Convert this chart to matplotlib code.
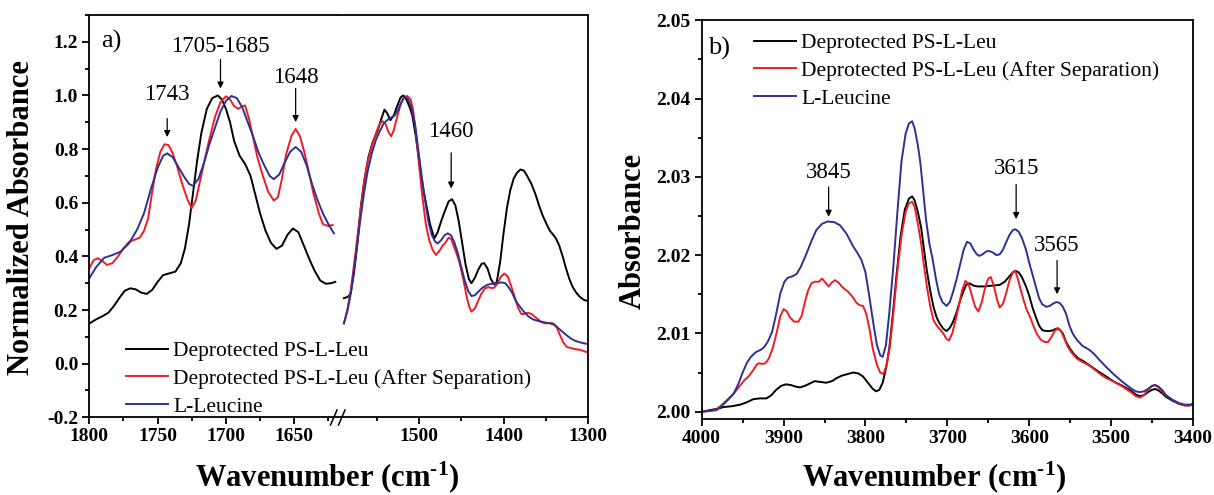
import matplotlib
matplotlib.use("Agg")
import matplotlib.pyplot as plt
from matplotlib.lines import Line2D
from matplotlib.ticker import MultipleLocator, FormatStrFormatter, FixedLocator

plt.rcParams['font.family'] = ['Liberation Serif', 'DejaVu Serif']
plt.rcParams['mathtext.fontset'] = 'custom'
plt.rcParams['mathtext.rm'] = 'Liberation Serif:bold'
plt.rcParams['mathtext.bf'] = 'Liberation Serif:bold'
plt.rcParams['mathtext.it'] = 'Liberation Serif:bold'
plt.rcParams['axes.unicode_minus'] = False

# ---------------- panel a, part 1 (1800-1620 cm-1) ----------------
a1_black_x = [1800, 1795, 1790, 1786, 1782, 1778, 1774, 1770, 1766, 1762, 1758, 1754, 1750, 1746,
              1742, 1737, 1733, 1730, 1727, 1724, 1721, 1718, 1714, 1710, 1706, 1703, 1700, 1697,
              1694, 1690, 1686, 1682, 1679, 1675, 1671, 1667, 1663, 1659, 1655, 1651, 1647, 1643,
              1639, 1635, 1631, 1627, 1623, 1620]
a1_black_y = [0.150, 0.165, 0.178, 0.190, 0.215, 0.245, 0.272, 0.281, 0.277, 0.265, 0.260, 0.275,
              0.305, 0.330, 0.336, 0.343, 0.375, 0.430, 0.520, 0.640, 0.760, 0.860, 0.950, 0.990,
              1.000, 0.985, 0.950, 0.900, 0.830, 0.775, 0.745, 0.700, 0.640, 0.560, 0.495, 0.450,
              0.428, 0.440, 0.480, 0.504, 0.490, 0.440, 0.390, 0.345, 0.310, 0.298, 0.300, 0.305]

a1_red_x = [1800, 1797, 1794, 1791, 1787, 1783, 1779, 1775, 1771, 1767, 1763, 1760, 1757, 1754,
            1751, 1748, 1745, 1742, 1739, 1736, 1732, 1728, 1725, 1722, 1719, 1716, 1712, 1708,
            1704, 1700, 1697, 1694, 1691, 1688, 1686, 1683, 1680, 1677, 1673, 1669, 1665, 1662,
            1659, 1656, 1652, 1649, 1646, 1643, 1640, 1636, 1632, 1629, 1625, 1622]
a1_red_y = [0.355, 0.385, 0.393, 0.385, 0.368, 0.375, 0.400, 0.430, 0.454, 0.462, 0.470, 0.495,
            0.540, 0.640, 0.730, 0.790, 0.818, 0.815, 0.785, 0.740, 0.670, 0.610, 0.580, 0.610,
            0.680, 0.750, 0.840, 0.920, 0.975, 0.997, 0.985, 0.960, 0.950, 0.960, 0.963, 0.910,
            0.840, 0.770, 0.700, 0.640, 0.608, 0.620, 0.690, 0.780, 0.850, 0.875, 0.850, 0.796,
            0.730, 0.635, 0.560, 0.520, 0.513, 0.517]

a1_blue_x = [1800, 1795, 1789, 1783, 1777, 1771, 1765, 1760, 1755, 1750, 1746, 1743, 1739, 1735,
             1731, 1727, 1724, 1720, 1716, 1712, 1708, 1704, 1700, 1696, 1692, 1688, 1684, 1680,
             1676, 1672, 1668, 1665, 1661, 1657, 1653, 1649, 1645, 1641, 1637, 1633, 1629, 1625,
             1621]
a1_blue_y = [0.318, 0.360, 0.395, 0.405, 0.418, 0.448, 0.500, 0.560, 0.650, 0.730, 0.775, 0.784,
             0.770, 0.735, 0.700, 0.670, 0.663, 0.690, 0.750, 0.820, 0.880, 0.940, 0.980, 0.998,
             0.990, 0.955, 0.900, 0.845, 0.785, 0.740, 0.700, 0.688, 0.705, 0.750, 0.790, 0.808,
             0.790, 0.740, 0.670, 0.610, 0.560, 0.520, 0.486]

# ---------------- panel a, part 2 (1590-1300 cm-1) ----------------
a2_black_x = [1589, 1584, 1581, 1577, 1573, 1569, 1565, 1560, 1555, 1549, 1545, 1541, 1538, 1534,
              1530, 1526, 1522, 1519, 1515, 1511, 1508, 1504, 1499, 1495, 1491, 1487, 1482, 1478,
              1474, 1470, 1465, 1461, 1457, 1453, 1449, 1445, 1441, 1438, 1434, 1430, 1426, 1423,
              1419, 1415, 1411, 1408, 1404, 1400, 1396, 1392, 1388, 1384, 1380, 1376, 1372, 1367,
              1362, 1358, 1354, 1349, 1345, 1341, 1338, 1334, 1330, 1326, 1322, 1318, 1314, 1310,
              1305, 1300]
a2_black_y = [0.244, 0.250, 0.262, 0.340, 0.450, 0.585, 0.680, 0.770, 0.825, 0.870, 0.910, 0.947,
              0.935, 0.908, 0.925, 0.960, 0.992, 1.000, 0.985, 0.955, 0.925, 0.850, 0.734, 0.650,
              0.585, 0.520, 0.467, 0.490, 0.530, 0.565, 0.605, 0.613, 0.590, 0.530, 0.450, 0.370,
              0.315, 0.300, 0.320, 0.350, 0.372, 0.375, 0.355, 0.315, 0.295, 0.305, 0.380, 0.486,
              0.580, 0.647, 0.690, 0.712, 0.724, 0.720, 0.700, 0.670, 0.630, 0.590, 0.555, 0.520,
              0.495, 0.480, 0.467, 0.440, 0.400, 0.355, 0.315, 0.285, 0.265, 0.250, 0.238, 0.233]

a2_red_x = [1589, 1585, 1581, 1577, 1573, 1569, 1565, 1561, 1557, 1552, 1548, 1544, 1540, 1536,
            1533, 1530, 1526, 1522, 1518, 1514, 1510, 1507, 1504, 1500, 1496, 1492, 1488, 1484,
            1480, 1476, 1472, 1468, 1465, 1462, 1458, 1455, 1452, 1448, 1444, 1441, 1438, 1434,
            1430, 1426, 1422, 1418, 1414, 1411, 1407, 1403, 1399, 1395, 1391, 1387, 1383, 1379,
            1375, 1371, 1367, 1363, 1359, 1355, 1350, 1345, 1341, 1337, 1333, 1329, 1325, 1320,
            1315, 1310, 1305, 1300]
a2_red_y = [0.150, 0.200, 0.270, 0.370, 0.473, 0.580, 0.680, 0.750, 0.800, 0.850, 0.885, 0.905,
            0.895, 0.862, 0.848, 0.870, 0.920, 0.965, 0.992, 0.998, 0.985, 0.945, 0.870, 0.740,
            0.620, 0.520, 0.460, 0.425, 0.405, 0.420, 0.440, 0.455, 0.470, 0.465, 0.430, 0.405,
            0.374, 0.320, 0.255, 0.215, 0.194, 0.205, 0.235, 0.262, 0.281, 0.285, 0.282, 0.283,
            0.300, 0.325, 0.336, 0.325, 0.290, 0.250, 0.210, 0.185, 0.186, 0.190, 0.185, 0.175,
            0.165, 0.155, 0.150, 0.152, 0.150, 0.135, 0.105, 0.078, 0.062, 0.058, 0.054, 0.052,
            0.047, 0.041]

a2_blue_x = [1589, 1585, 1581, 1577, 1573, 1569, 1565, 1561, 1556, 1551, 1546, 1542, 1537, 1533,
             1529, 1525, 1521, 1517, 1513, 1509, 1505, 1501, 1497, 1493, 1489, 1485, 1481, 1478,
             1474, 1470, 1466, 1462, 1458, 1454, 1450, 1446, 1442, 1438, 1434, 1430, 1425, 1420,
             1414, 1408, 1402, 1398, 1394, 1390, 1385, 1380, 1375, 1370, 1365, 1360, 1355, 1350,
             1345, 1340, 1335, 1330, 1325, 1320, 1315, 1310, 1305, 1300]
a2_blue_y = [0.150, 0.195, 0.260, 0.350, 0.450, 0.550, 0.640, 0.715, 0.784, 0.835, 0.870, 0.895,
             0.910, 0.918, 0.925, 0.945, 0.975, 0.997, 0.985, 0.955, 0.895, 0.800, 0.700, 0.610,
             0.530, 0.480, 0.455, 0.448, 0.460, 0.478, 0.486, 0.478, 0.450, 0.410, 0.360, 0.310,
             0.272, 0.252, 0.255, 0.268, 0.283, 0.293, 0.298, 0.300, 0.303, 0.300, 0.285, 0.265,
             0.231, 0.210, 0.190, 0.175, 0.165, 0.160, 0.156, 0.153, 0.150, 0.145, 0.132, 0.118,
             0.105, 0.093, 0.085, 0.080, 0.076, 0.073]

# ---------------- panel b (4000-3400 cm-1) ----------------
b_blue_x = [4000, 3990, 3982, 3975, 3968, 3961, 3955, 3950, 3945, 3940, 3934, 3928, 3924, 3919,
            3914, 3909, 3904, 3899, 3895, 3889, 3884, 3879, 3872, 3866, 3860, 3853, 3846, 3838,
            3831, 3823, 3815, 3810, 3805, 3800, 3795, 3790, 3786, 3782, 3779, 3775, 3771, 3766,
            3761, 3756, 3751, 3747, 3743, 3740, 3736, 3733, 3730, 3726, 3722, 3718, 3714, 3710,
            3706, 3701, 3697, 3693, 3689, 3684, 3680, 3676, 3672, 3668, 3664, 3661, 3657, 3652,
            3648, 3644, 3640, 3636, 3632, 3628, 3624, 3620, 3617, 3613, 3609, 3604, 3600, 3596,
            3592, 3588, 3584, 3579, 3575, 3571, 3567, 3563, 3559, 3555, 3551, 3547, 3542, 3535,
            3528, 3522, 3515, 3506, 3496, 3486, 3476, 3470, 3465, 3460, 3455, 3450, 3446, 3442,
            3437, 3433, 3425, 3417, 3410, 3404, 3400]
b_blue_y = [2.0000, 2.0001, 2.0002, 2.0008, 2.0015, 2.0023, 2.0036, 2.0050, 2.0062, 2.0070,
            2.0076, 2.0079, 2.0082, 2.0090, 2.0102, 2.0125, 2.0151, 2.0166, 2.0171, 2.0173,
            2.0176, 2.0185, 2.0202, 2.0218, 2.0232, 2.0240, 2.0243, 2.0242, 2.0238, 2.0227,
            2.0211, 2.0203, 2.0194, 2.0178, 2.0145, 2.0110, 2.0085, 2.0072, 2.0070, 2.0085,
            2.0125, 2.0185, 2.0255, 2.0320, 2.0355, 2.0368, 2.0371, 2.0362, 2.0340, 2.0318,
            2.0287, 2.0245, 2.0215, 2.0195, 2.0170, 2.0150, 2.0140, 2.0135, 2.0140, 2.0153,
            2.0168, 2.0190, 2.0207, 2.0217, 2.0215, 2.0207, 2.0201, 2.0199, 2.0201, 2.0205,
            2.0205, 2.0203, 2.0200, 2.0201, 2.0207, 2.0217, 2.0226, 2.0232, 2.0233, 2.0230,
            2.0222, 2.0207, 2.0190, 2.0175, 2.0160, 2.0145, 2.0137, 2.0134, 2.0135, 2.0138,
            2.0140, 2.0139, 2.0134, 2.0125, 2.0110, 2.0100, 2.0092, 2.0084, 2.0080, 2.0075,
            2.0067, 2.0057, 2.0047, 2.0038, 2.0030, 2.0026, 2.0025, 2.0026, 2.0029, 2.0033,
            2.0034, 2.0032, 2.0027, 2.0021, 2.0015, 2.0011, 2.0009, 2.0009, 2.0010]

b_black_x = [4000, 3990, 3980, 3973, 3963, 3953, 3945, 3937, 3929, 3921, 3915, 3909, 3903, 3897,
             3891, 3885, 3880, 3874, 3868, 3862, 3855, 3848, 3841, 3835, 3829, 3822, 3815, 3809,
             3803, 3797, 3791, 3787, 3783, 3779, 3775, 3771, 3767, 3762, 3757, 3752, 3747, 3743,
             3740, 3736, 3732, 3729, 3725, 3721, 3717, 3713, 3709, 3705, 3701, 3697, 3693, 3689,
             3685, 3681, 3677, 3673, 3668, 3663, 3655, 3645, 3636, 3630, 3625, 3620, 3617, 3613,
             3609, 3604, 3600, 3596, 3592, 3588, 3584, 3579, 3575, 3571, 3567, 3563, 3559, 3555,
             3550, 3545, 3540, 3533, 3526, 3518, 3506, 3496, 3486, 3476, 3470, 3465, 3460, 3455,
             3450, 3446, 3442, 3437, 3433, 3425, 3417, 3410, 3404, 3400]
b_black_y = [2.0000, 2.0002, 2.0004, 2.0006, 2.0007, 2.0009, 2.0012, 2.0016, 2.0017, 2.0017,
             2.0021, 2.0028, 2.0033, 2.0035, 2.0034, 2.0032, 2.0031, 2.0033, 2.0036, 2.0039,
             2.0038, 2.0037, 2.0039, 2.0043, 2.0046, 2.0048, 2.0050, 2.0049, 2.0045, 2.0037,
             2.0029, 2.0026, 2.0028, 2.0037, 2.0055, 2.0080, 2.0120, 2.0175, 2.0225, 2.0258,
             2.0272, 2.0275, 2.0270, 2.0255, 2.0235, 2.0211, 2.0180, 2.0155, 2.0134, 2.0120,
             2.0112, 2.0106, 2.0103, 2.0107, 2.0115, 2.0126, 2.0140, 2.0152, 2.0162, 2.0164,
             2.0161, 2.0160, 2.0160, 2.0161, 2.0162, 2.0166, 2.0172, 2.0178, 2.0180, 2.0178,
             2.0172, 2.0160, 2.0148, 2.0133, 2.0121, 2.0110, 2.0104, 2.0103, 2.0103, 2.0104,
             2.0106, 2.0105, 2.0100, 2.0089, 2.0080, 2.0073, 2.0068, 2.0064, 2.0059, 2.0053,
             2.0045, 2.0038, 2.0033, 2.0027, 2.0022, 2.0020, 2.0021, 2.0025, 2.0028, 2.0029,
             2.0027, 2.0023, 2.0019, 2.0014, 2.0010, 2.0008, 2.0008, 2.0010]

b_red_x = [4000, 3990, 3982, 3975, 3968, 3961, 3955, 3948, 3942, 3937, 3933, 3930, 3926, 3922,
           3918, 3913, 3908, 3904, 3900, 3896, 3892, 3887, 3882, 3878, 3874, 3870, 3866, 3862,
           3857, 3853, 3849, 3845, 3841, 3837, 3833, 3829, 3825, 3821, 3816, 3811, 3807, 3803,
           3799, 3795, 3791, 3786, 3782, 3778, 3774, 3770, 3766, 3761, 3756, 3751, 3747, 3743,
           3740, 3736, 3732, 3729, 3725, 3721, 3717, 3713, 3709, 3705, 3701, 3698, 3694, 3690,
           3686, 3682, 3678, 3674, 3670, 3666, 3662, 3658, 3654, 3650, 3647, 3643, 3639, 3636,
           3632, 3628, 3624, 3620, 3617, 3614, 3611, 3607, 3603, 3599, 3595, 3591, 3586, 3581,
           3577, 3573, 3569, 3565, 3561, 3557, 3553, 3548, 3542, 3536, 3530, 3524, 3518, 3512,
           3506, 3496, 3486, 3476, 3470, 3465, 3460, 3455, 3450, 3446, 3442, 3437, 3433, 3425,
           3417, 3410, 3404, 3400]
b_red_y = [2.0000, 2.0001, 2.0003, 2.0009, 2.0016, 2.0023, 2.0031, 2.0040, 2.0046, 2.0053,
           2.0060, 2.0062, 2.0061, 2.0062, 2.0068, 2.0082, 2.0103, 2.0122, 2.0131, 2.0128,
           2.0120, 2.0115, 2.0115, 2.0122, 2.0140, 2.0155, 2.0164, 2.0166, 2.0166, 2.0170,
           2.0165, 2.0160, 2.0165, 2.0168, 2.0165, 2.0160, 2.0156, 2.0153, 2.0147, 2.0139,
           2.0136, 2.0135, 2.0125, 2.0105, 2.0080, 2.0060, 2.0050, 2.0048, 2.0060, 2.0085,
           2.0125, 2.0180, 2.0225, 2.0255, 2.0266, 2.0268, 2.0262, 2.0240, 2.0215, 2.0190,
           2.0160, 2.0135, 2.0117, 2.0110, 2.0105, 2.0100, 2.0093, 2.0091, 2.0100, 2.0117,
           2.0135, 2.0155, 2.0167, 2.0163, 2.0148, 2.0134, 2.0128, 2.0140, 2.0158, 2.0170,
           2.0172, 2.0160, 2.0142, 2.0133, 2.0138, 2.0152, 2.0168, 2.0178, 2.0180, 2.0170,
           2.0158, 2.0143, 2.0130, 2.0121, 2.0110, 2.0100, 2.0092, 2.0089, 2.0089, 2.0095,
           2.0103, 2.0107, 2.0103, 2.0093, 2.0083, 2.0075, 2.0068, 2.0064, 2.0061, 2.0057,
           2.0052, 2.0047, 2.0043, 2.0038, 2.0032, 2.0025, 2.0020, 2.0018, 2.0021, 2.0028,
           2.0033, 2.0034, 2.0031, 2.0025, 2.0021, 2.0015, 2.0010, 2.0008, 2.0008, 2.0010]

labels = ['Deprotected PS-L-Leu', 'Deprotected PS-L-Leu (After Separation)', 'L-Leucine']
colors = ['#000000', '#EE1C24', '#2E3192']

# annotations: (label, x of arrow, text y, arrow tail y, arrow head y)
a1_notes = [('1743', 1743, 1.004, 0.914, 0.845),
            ('1705-1685', 1704, 1.183, 1.134, 1.026),
            ('1648', 1649, 1.067, 1.026, 0.901)]
a2_notes = [('1460', 1462, 0.864, 0.786, 0.653)]
b_notes = [('3845', 3845, 2.0306, 2.0287, 2.0249),
           ('3615', 3616, 2.0310, 2.0290, 2.0246),
           ('3565', 3566, 2.0212, 2.0193, 2.0150)]

lw = 1.4
tick_fs = 14
label_fs = 22
note_fs = 16.5
leg_fs = 15.5
xlabel = 'Wavenumber (cm$^{\u2010 1}$)'

fig = plt.figure(figsize=(12.14, 4.95), dpi=100)
ax1 = fig.add_axes([0.07356, 0.15697, 0.20486, 0.81273])
ax2 = fig.add_axes([0.27842, 0.15697, 0.20593, 0.81273])
axb = fig.add_axes([0.57801, 0.15293, 0.40470, 0.80626])


def style(ax):
    for s in ax.spines.values():
        s.set_linewidth(1.3)
    ax.tick_params(which='both', direction='out', top=False, right=False, width=1.3,
                   labelsize=tick_fs, pad=3)
    ax.tick_params(which='major', length=5)
    ax.tick_params(which='minor', length=3)
    for t in ax.get_xticklabels() + ax.get_yticklabels():
        t.set_fontweight('bold')


def add_notes(ax, notes):
    for txt, x, ty, y0, y1 in notes:
        ax.text(x, ty, txt, ha='center', va='center', fontsize=note_fs)
        ax.annotate('', xy=(x, y1), xytext=(x, y0),
                    arrowprops=dict(arrowstyle='-|>', color='k', lw=0.9,
                                    mutation_scale=9, shrinkA=0, shrinkB=0))


# panel a
ax1.plot(a1_black_x, a1_black_y, color=colors[0], lw=lw)
ax1.plot(a1_red_x, a1_red_y, color=colors[1], lw=lw)
ax1.plot(a1_blue_x, a1_blue_y, color=colors[2], lw=lw)
ax2.plot(a2_black_x, a2_black_y, color=colors[0], lw=lw)
ax2.plot(a2_red_x, a2_red_y, color=colors[1], lw=lw)
ax2.plot(a2_blue_x, a2_blue_y, color=colors[2], lw=lw)

ax1.set_xlim(1800, 1618)
ax2.set_xlim(1596, 1300)
for ax in (ax1, ax2):
    ax.set_ylim(-0.2, 1.3)
ax1.xaxis.set_major_locator(FixedLocator([1800, 1750, 1700, 1650]))
ax1.xaxis.set_minor_locator(FixedLocator([1775, 1725, 1675, 1625]))
ax2.xaxis.set_major_locator(FixedLocator([1500, 1400, 1300]))
ax2.xaxis.set_minor_locator(FixedLocator([1550, 1450, 1350]))
ax1.yaxis.set_major_locator(MultipleLocator(0.2))
ax1.yaxis.set_minor_locator(MultipleLocator(0.1))
ax1.yaxis.set_major_formatter(FormatStrFormatter('%.1f'))
ax1.spines['right'].set_visible(False)
ax2.spines['left'].set_visible(False)
style(ax1)
style(ax2)
ax2.tick_params(axis='y', which='both', left=False, labelleft=False)

add_notes(ax1, a1_notes)
add_notes(ax2, a2_notes)
ax1.text(0.09, 0.934, 'a)', transform=ax1.transAxes, ha='center', va='center', fontsize=19)

# axis break marks on the bottom spine
W, H = 1214.0, 495.0
for x0 in (330.5, 338.5):
    fig.add_artist(Line2D([x0 / W, (x0 + 6.5) / W], [1 - 425 / H, 1 - 410 / H],
                          transform=fig.transFigure, color='k', lw=1.1))

fig.text(327 / W, 1 - 486 / H, xlabel, ha='center', va='baseline',
         fontsize=label_fs, fontweight='bold')
fig.text(22 / W, 1 - 218 / H, 'Normalized Absorbance', ha='center', va='center',
         rotation=90, fontsize=label_fs, fontweight='bold')

handles = [Line2D([], [], color=c, lw=lw) for c in colors]
fig.legend(handles, labels, loc='upper left', bbox_to_anchor=(126 / W, 1 - 341 / H),
           frameon=False, fontsize=leg_fs, handlelength=1.95, handletextpad=0.25,
           labelspacing=0.36, borderpad=0, borderaxespad=0)

# panel b
axb.plot(b_black_x, b_black_y, color=colors[0], lw=lw)
axb.plot(b_red_x, b_red_y, color=colors[1], lw=lw)
axb.plot(b_blue_x, b_blue_y, color=colors[2], lw=lw)
axb.set_xlim(4000, 3400)
axb.set_ylim(1.99903, 2.05)
axb.xaxis.set_major_locator(MultipleLocator(100))
axb.xaxis.set_minor_locator(MultipleLocator(50))
axb.yaxis.set_major_locator(MultipleLocator(0.01))
axb.yaxis.set_minor_locator(MultipleLocator(0.005))
axb.yaxis.set_major_formatter(FormatStrFormatter('%.2f'))
style(axb)
add_notes(axb, b_notes)
axb.text(0.035, 0.928, 'b)', transform=axb.transAxes, ha='center', va='center', fontsize=19)

fig.text(934 / W, 1 - 486 / H, xlabel, ha='center', va='baseline',
         fontsize=label_fs, fontweight='bold')
fig.text(633 / W, 1 - 231 / H, 'Absorbance', ha='center', va='center',
         rotation=90, fontsize=label_fs, fontweight='bold')

axb.legend(handles, labels, loc='upper left', bbox_to_anchor=(754 / W, 1 - 33 / H),
           bbox_transform=fig.transFigure, frameon=False, fontsize=leg_fs,
           handlelength=1.95, handletextpad=0.25, labelspacing=0.36, borderpad=0,
           borderaxespad=0)

fig.savefig('out.png', dpi=100)
